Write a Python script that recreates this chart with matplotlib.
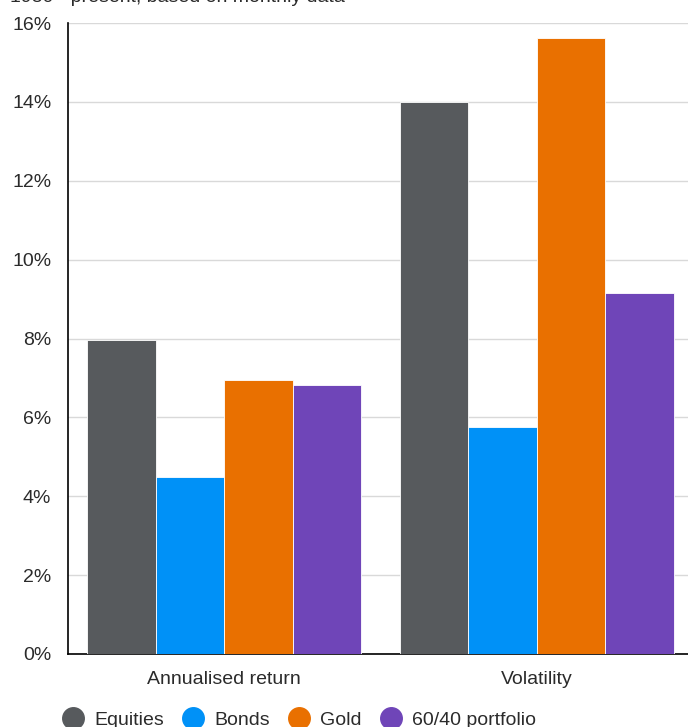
import numpy as np
import matplotlib
matplotlib.use("Agg")
import matplotlib.pyplot as plt
from matplotlib.lines import Line2D

# ─── Data ─────────────────────────────────────────────────────────────────────
categories = ["Annualised return", "Volatility"]
series = ["Equities", "Bonds", "Gold", "60/40 portfolio"]
equities = [7.95, 14.0]
bonds = [4.5, 5.75]
gold = [6.95, 15.62]
portfolio_6040 = [6.82, 9.15]
y_ticks = [0, 2, 4, 6, 8, 10, 12, 14, 16]
subtitle = "1980 - present, based on monthly data"

colors = ["#575a5d", "#0091f7", "#e97000", "#6f45b8"]

plt.rcParams["font.family"] = ["Liberation Sans", "DejaVu Sans"]
TXT = "#2b2b2b"
FS = 14

fig = plt.figure(figsize=(6.88, 7.27), dpi=100)
ax = fig.add_axes([68 / 688, 73 / 727, 625 / 688, 631 / 727])

x = np.arange(len(categories))
width = 0.219
values = [equities, bonds, gold, portfolio_6040]
for i, (name, vals) in enumerate(zip(series, values)):
    ax.bar(x + (i - 1.5) * width, vals, width, color=colors[i],
           edgecolor="white", linewidth=0.6, label=name, zorder=3)

ax.set_xlim(-0.5, 1.5)
ax.set_ylim(0, 16)
ax.set_yticks(y_ticks)
ax.set_yticklabels([f"{t}%" for t in y_ticks])
ax.set_xticks(x)
ax.set_xticklabels(categories)
ax.tick_params(axis="both", length=0, labelsize=FS, colors=TXT)
ax.tick_params(axis="y", pad=12)
ax.tick_params(axis="x", pad=12)
ax.yaxis.grid(True, color="#d9d9d9", linewidth=1.0, zorder=0)
ax.set_axisbelow(True)
for side in ("top", "right"):
    ax.spines[side].set_visible(False)
for side in ("left", "bottom"):
    ax.spines[side].set_color("black")
    ax.spines[side].set_linewidth(1.2)

# subtitle, cut off at the top edge like the original
fig.text(10 / 688, 1.0 - 1.8 / 727, subtitle, fontsize=FS, color=TXT,
         ha="left", va="baseline")

handles = [Line2D([], [], marker="o", linestyle="", markersize=15.5,
                  markerfacecolor=c, markeredgecolor=c) for c in colors]
fig.legend(handles, series, loc="center left",
           bbox_to_anchor=(63.5 / 688, 7 / 727), ncol=4, frameon=False,
           fontsize=FS, handlelength=1.0, handletextpad=0.58,
           columnspacing=1.0, labelcolor=TXT, borderaxespad=0, borderpad=0)

fig.savefig("out.png", dpi=100)
